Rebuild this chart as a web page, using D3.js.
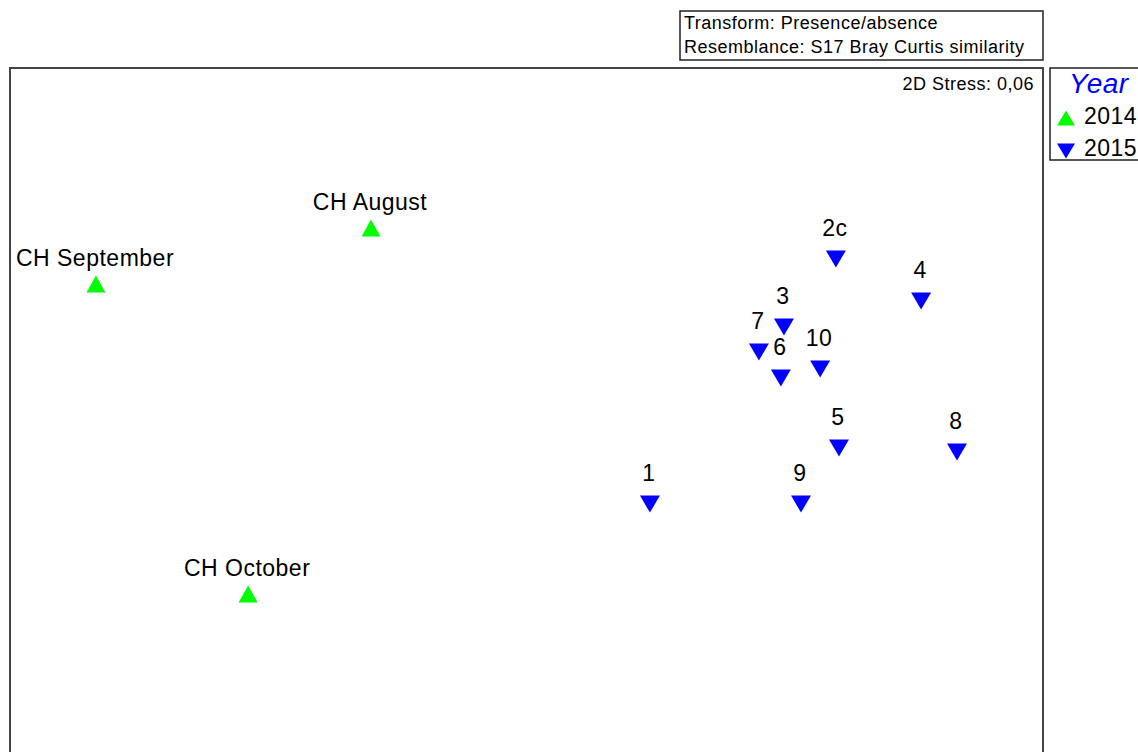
<!DOCTYPE html>
<html>
<head>
<meta charset="utf-8">
<script src="https://cdn.jsdelivr.net/npm/d3@7"></script>
<style>
  body { margin: 0; background: #fff; }
  svg { display: block; font-family: Arial, "Liberation Sans", sans-serif; }
</style>
</head>
<body>
<svg id="chart" width="1138" height="752"></svg>
<script>
// nMDS ordination, presence/absence, Bray Curtis
const sampleLabels = ["CH August", "CH September", "CH October", "2c", "4", "3", "7", "6", "10", "5", "8", "1", "9"];
const sampleYears  = ["2014", "2014", "2014", "2015", "2015", "2015", "2015", "2015", "2015", "2015", "2015", "2015", "2015"];
const mds1 = [-0.602, -1.667, -1.078, 1.198, 1.528, 0.997, 0.900, 0.985, 1.137, 1.210, 1.667, 0.478, 1.063];
const mds2 = [0.748, 0.531, -0.669, 0.650, 0.487, 0.387, 0.290, 0.189, 0.224, -0.082, -0.097, -0.299, -0.299];
const years = ["2014", "2015"];
const stressText = "2D Stress: 0,06";
const infoLines = ["Transform: Presence/absence", "Resemblance: S17 Bray Curtis similarity"];

const svg = d3.select("#chart");

// plot frame (bottom runs past the window edge)
const frame = { x0: 10, x1: 1043, y0: 68, y1: 780 };

const x = d3.scaleLinear().domain([-2, 2]).range([frame.x0, frame.x1]);
const y = d3.scaleLinear().domain([-1.3785, 1.3785]).range([frame.y1, frame.y0]);

const colour = d3.scaleOrdinal().domain(years).range(["#00ff00", "#0000ff"]);
const shape = d3.scaleOrdinal().domain(years).range(["up", "down"]);

// triangle with its centroid at the origin
function tri(dir, w, h) {
    const s = dir === "up" ? 1 : -1;
    const base = s * h / 3, apex = -s * 2 * h / 3;
    return `M${-w / 2},${base}L${w / 2},${base}L0,${apex}Z`;
}

svg.append("rect")
    .attr("x", frame.x0).attr("y", frame.y0)
    .attr("width", frame.x1 - frame.x0).attr("height", frame.y1 - frame.y0)
    .attr("fill", "none").attr("stroke", "#444").attr("stroke-width", 2);

// info box above the plot
const info = svg.append("g");
info.append("rect")
    .attr("x", 680).attr("y", 11).attr("width", 363).attr("height", 49)
    .attr("fill", "#fff").attr("stroke", "#222").attr("stroke-width", 1.5);
info.selectAll("text").data(infoLines).join("text")
    .attr("x", 684).attr("y", (d, i) => 29 + i * 24)
    .attr("font-size", 18).attr("letter-spacing", 0.5).attr("fill", "#000")
    .text(d => d);

svg.append("text")
    .attr("x", 1034).attr("y", 90)
    .attr("text-anchor", "end").attr("font-size", 18).attr("letter-spacing", 0.5).attr("fill", "#000")
    .text(stressText);

// points
const pts = mds1.map((v, i) => ({ label: sampleLabels[i], year: sampleYears[i], x: v, y: mds2[i] }));

const g = svg.append("g");
g.selectAll("path").data(pts).join("path")
    .attr("transform", d => `translate(${x(d.x)},${y(d.y)})`)
    .attr("d", d => shape(d.year) === "up" ? tri("up", 19, 17) : tri("down", 20, 17))
    .attr("fill", d => colour(d.year));

g.selectAll("text").data(pts).join("text")
    .attr("x", d => x(d.x) - 1)
    .attr("y", d => y(d.y) - 20.5)
    .attr("text-anchor", "middle")
    .attr("font-size", 23).attr("letter-spacing", 0.5).attr("fill", "#000")
    .text(d => d.label);

// legend
const legend = svg.append("g");
legend.append("rect")
    .attr("x", 1050).attr("y", 68).attr("width", 100).attr("height", 92)
    .attr("fill", "#fff").attr("stroke", "#222").attr("stroke-width", 1.5);
legend.append("text")
    .attr("x", 1069).attr("y", 93)
    .attr("font-size", 28).attr("font-style", "italic").attr("letter-spacing", 0.5).attr("fill", "#0000ff")
    .text("Year");
years.forEach((yr, i) => {
    const cy = i === 0 ? 120.5 : 148.5;
    legend.append("path")
        .attr("transform", `translate(1066,${cy})`)
        .attr("d", tri(shape(yr), 18, 15))
        .attr("fill", colour(yr));
    legend.append("text")
        .attr("x", 1084).attr("y", i === 0 ? 124 : 156)
        .attr("font-size", 23).attr("letter-spacing", 0.5).attr("fill", "#000")
        .text(yr);
});
</script>
</body>
</html>
